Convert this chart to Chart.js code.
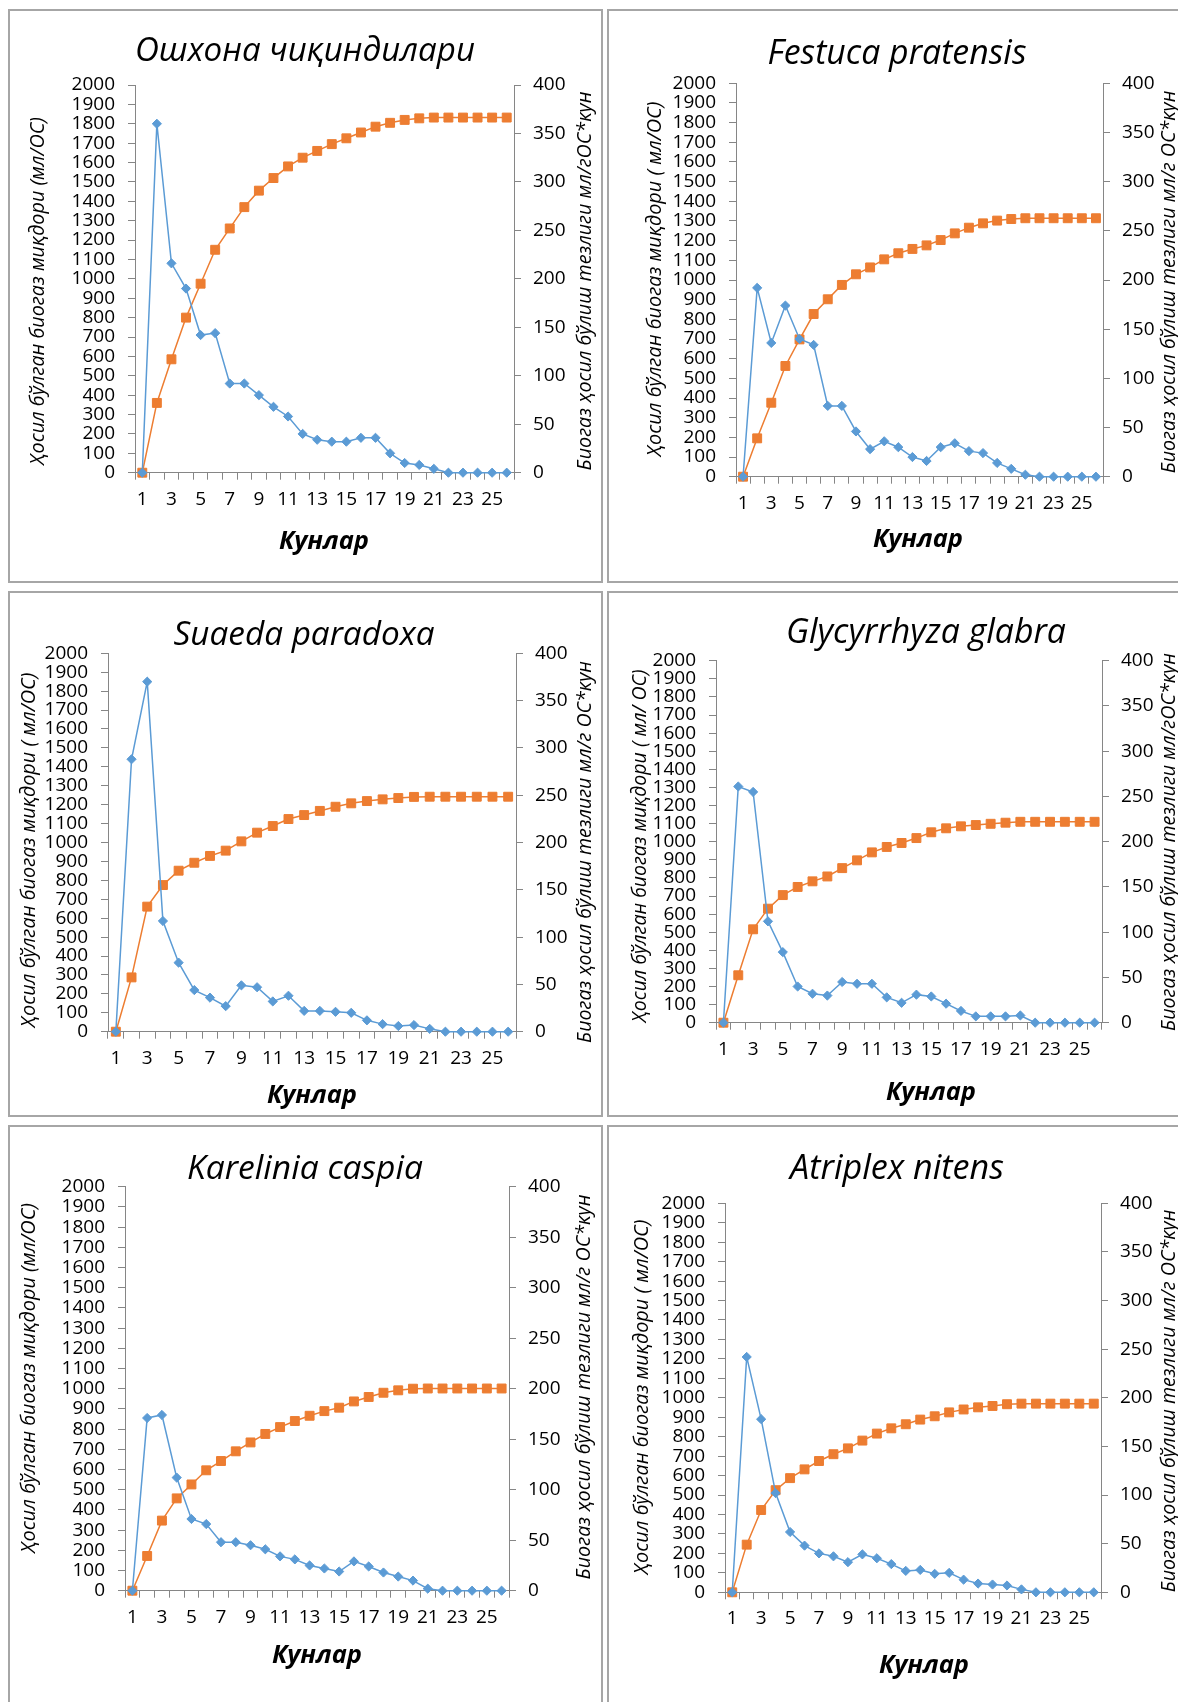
<!DOCTYPE html>
<html>
<head>
<meta charset="utf-8">
<script src="https://cdn.jsdelivr.net/npm/chart.js@4.4.1/dist/chart.umd.min.js"></script>
<style>
  body { margin: 0; background: #fff; }
  #page { position: relative; width: 1178px; height: 1702px; overflow: hidden; background: #fff; }
  .box { position: absolute; box-sizing: border-box; border: 2px solid #a6a6a6; }
  canvas { position: absolute; }
</style>
</head>
<body>
<div id="page"></div>
<script>
// days on the x axis
const days = ['1','2','3','4','5','6','7','8','9','10','11','12','13','14','15','16','17','18','19','20','21','22','23','24','25','26'];

// blue = rate (right axis), orange = cumulative amount (left axis)
const oshxonaRate  = [0,360,216,190,142,144,92,92,80,68,58,40,34,32,32,36,36,20,10,8,4,0,0,0,0,0];
const oshxonaTotal = [0,360,585,800,975,1150,1260,1370,1455,1520,1580,1625,1660,1695,1725,1755,1785,1805,1820,1828,1832,1832,1832,1832,1832,1832];

const festucaRate  = [0,192,136,174,140,134,72,72,46,28,36,30,20,16,30,34,26,24,14,8,2,0,0,0,0,0];
const festucaTotal = [0,195,376,563,698,827,902,975,1029,1064,1105,1136,1158,1176,1203,1237,1266,1288,1302,1310,1314,1314,1314,1314,1314,1314];

const suaedaRate  = [0,288,370,117,73,44,36,27,49,47,32,38,22,22,21,20,12,8,6,7,3,0,0,0,0,0];
const suaedaTotal = [0,287,661,775,851,893,929,957,1006,1052,1087,1124,1145,1167,1189,1207,1219,1228,1235,1241,1242,1242,1242,1242,1242,1242];

const glycyrrhyzaRate  = [0,261,255,112,78,40,32,30,45,43,43,28,22,31,29,21,13,7,7,7,8,0,0,0,0,0];
const glycyrrhyzaTotal = [0,262,516,630,705,750,781,808,854,897,941,971,993,1020,1052,1074,1085,1092,1099,1105,1110,1110,1110,1110,1110,1110];

const kareliniaRate  = [0,171,174,112,71,66,48,48,45,41,34,31,25,22,19,29,24,18,14,10,2,0,0,0,0,0];
const kareliniaTotal = [0,172,347,457,526,596,642,690,734,776,810,840,866,889,906,937,959,980,992,1000,1001,1001,1001,1001,1001,1001];

const atriplexRate  = [0,242,178,102,62,48,40,37,31,39,35,29,22,23,19,20,13,9,8,7,3,0,0,0,0,0];
const atriplexTotal = [0,245,423,525,587,632,675,710,740,780,816,843,864,888,905,925,940,951,958,967,970,970,970,970,970,970];

const titles = ['Ошхона чиқиндилари', 'Festuca pratensis', 'Suaeda paradoxa', 'Glycyrrhyza glabra', 'Karelinia caspia', 'Atriplex nitens'];
const leftTitles = [
  'Ҳосил бўлган биогаз миқдори (мл/ОС)',
  'Ҳосил бўлган биогаз миқдори ( мл/ОС)',
  'Ҳосил бўлган биогаз миқдори ( мл/ОС)',
  'Ҳосил бўлган биогаз миқдори ( мл/ ОС)',
  'Ҳосил бўлган биогаз миқдори (мл/ОС)',
  'Ҳосил бўлган биогаз миқдори ( мл/ОС)'
];
const rightTitles = [
  'Биогаз ҳосил бўлиш тезлиги мл/гОС*кун',
  'Биогаз ҳосил бўлиш тезлиги мл/г ОС*кун',
  'Биогаз ҳосил бўлиш тезлиги мл/г ОС*кун',
  'Биогаз ҳосил бўлиш тезлиги мл/гОС*кун',
  'Биогаз ҳосил бўлиш тезлиги мл/г ОС*кун',
  'Биогаз ҳосил бўлиш тезлиги мл/г ОС*кун'
];
const xTitle = 'Кунлар';

const rates = [oshxonaRate, festucaRate, suaedaRate, glycyrrhyzaRate, kareliniaRate, atriplexRate];
const totals = [oshxonaTotal, festucaTotal, suaedaTotal, glycyrrhyzaTotal, kareliniaTotal, atriplexTotal];

// page layout (px): box = [left, top, right, bottom], plot = [left, top, right, bottom]
// title/left/right/xt = [centerX, centerY, textLength]
const panels = [
  { box: [8, 9, 603, 583],     plot: [135, 85, 514, 472.7],
    title: [305, 52, 340], left: [38, 291, 348], right: [585, 281, 379], xt: [324, 542, 90] },
  { box: [607, 9, 1190, 583],  plot: [736, 83.3, 1103, 476.7],
    title: [897, 54, 259], left: [655, 279, 355], right: [1169, 282, 383], xt: [918, 540, 90] },
  { box: [8, 591, 603, 1117],  plot: [108, 653.3, 516, 1031.7],
    title: [304, 636, 261], left: [29, 850, 355], right: [585, 852, 382], xt: [312, 1096, 90] },
  { box: [607, 591, 1190, 1117], plot: [716, 660.7, 1102, 1022.7],
    title: [926, 633, 280], left: [640, 846, 353], right: [1169, 842, 378], xt: [931, 1093, 90] },
  { box: [8, 1125, 603, 1720], plot: [125, 1186.7, 509, 1590.7],
    title: [305, 1169, 236], left: [29, 1378, 350], right: [584, 1387, 385], xt: [317, 1656, 90] },
  { box: [607, 1125, 1190, 1720], plot: [725, 1203.3, 1101, 1592.3],
    title: [897, 1169, 214], left: [642, 1397, 355], right: [1169, 1401, 383], xt: [924, 1666, 90] }
];

const blue = '#5B9BD5';
const orange = '#ED7D31';
const axisGray = '#868686';
const FONT = "'Open Sans', sans-serif";

Chart.defaults.font.family = FONT;
Chart.defaults.color = '#000';

function fitText(ctx, text, cx, cy, len, style, angle) {
  ctx.save();
  ctx.font = style + ' 20px ' + FONT;
  const size = 20 * len / ctx.measureText(text).width;
  ctx.font = style + ' ' + size.toFixed(2) + 'px ' + FONT;
  ctx.translate(cx, cy);
  ctx.rotate(angle);
  ctx.textAlign = 'center';
  ctx.textBaseline = 'middle';
  ctx.fillStyle = '#000';
  ctx.fillText(text, 0, 0);
  ctx.restore();
}

const page = document.getElementById('page');

panels.forEach((p, i) => {
  const [bl, bt, br, bb] = p.box;
  const [pl, pt, pr, pb] = p.plot;
  const w = br - bl, h = bb - bt;

  const box = document.createElement('div');
  box.className = 'box';
  box.style.left = bl + 'px';
  box.style.top = bt + 'px';
  box.style.width = w + 'px';
  box.style.height = h + 'px';
  page.appendChild(box);

  const canvas = document.createElement('canvas');
  canvas.width = w;
  canvas.height = h;
  canvas.style.left = bl + 'px';
  canvas.style.top = bt + 'px';
  canvas.style.width = w + 'px';
  canvas.style.height = h + 'px';
  page.appendChild(canvas);

  const textPlugin = {
    id: 'panelText' + i,
    afterDraw(chart) {
      const ctx = chart.ctx;
      fitText(ctx, titles[i], p.title[0] - bl, p.title[1] - bt, p.title[2], 'italic 400', 0);
      fitText(ctx, leftTitles[i], p.left[0] - bl, p.left[1] - bt, p.left[2], 'italic 400', -Math.PI / 2);
      fitText(ctx, rightTitles[i], p.right[0] - bl, p.right[1] - bt, p.right[2], 'italic 400', -Math.PI / 2);
      fitText(ctx, xTitle, p.xt[0] - bl, p.xt[1] - bt, p.xt[2], 'italic 700', 0);
    }
  };

  const tickFont = { family: FONT, size: 19, lineHeight: 1 };

  new Chart(canvas, {
    type: 'line',
    data: {
      labels: days,
      datasets: [
        {
          data: rates[i],
          yAxisID: 'y1',
          borderColor: blue,
          backgroundColor: blue,
          borderWidth: 1.5,
          pointStyle: 'rectRot',
          pointRadius: 4.6,
          pointBorderWidth: 1,
          tension: 0,
          clip: false
        },
        {
          data: totals[i],
          yAxisID: 'y',
          borderColor: orange,
          backgroundColor: orange,
          borderWidth: 1.5,
          pointStyle: 'rect',
          pointRadius: 6.3,
          pointBorderWidth: 1,
          tension: 0,
          clip: false
        }
      ]
    },
    options: {
      responsive: false,
      animation: false,
      layout: { autoPadding: false, padding: { top: pt - bt, left: 0, right: 0, bottom: 0 } },
      plugins: {
        legend: { display: false },
        title: { display: false },
        tooltip: { enabled: false }
      },
      scales: {
        x: {
          type: 'category',
          offset: true,
          grid: { display: true, drawOnChartArea: false, offset: true, tickLength: 7, color: axisGray },
          border: { display: true, color: axisGray, width: 1 },
          ticks: {
            autoSkip: false, maxRotation: 0, minRotation: 0, padding: 10,
            color: '#000', font: tickFont,
            callback: (v, idx) => (idx % 2 === 0 ? days[idx] : '')
          },
          afterFit: s => { s.height = bb - pb; }
        },
        y: {
          position: 'left',
          min: 0, max: 2000,
          grid: { display: true, drawOnChartArea: false, tickLength: 7, color: axisGray },
          border: { display: true, color: axisGray, width: 1 },
          ticks: {
            stepSize: 100, maxTicksLimit: 21, autoSkip: false, padding: 13,
            color: '#000', font: tickFont, callback: v => String(v)
          },
          afterFit: s => { s.width = pl - bl; }
        },
        y1: {
          position: 'right',
          min: 0, max: 400,
          grid: { display: true, drawOnChartArea: false, tickLength: 7, color: axisGray },
          border: { display: true, color: axisGray, width: 1 },
          ticks: {
            stepSize: 50, maxTicksLimit: 9, autoSkip: false, padding: 12,
            color: '#000', font: tickFont, callback: v => String(v)
          },
          afterFit: s => { s.width = br - pr; }
        }
      }
    },
    plugins: [textPlugin]
  });
});
</script>
</body>
</html>
